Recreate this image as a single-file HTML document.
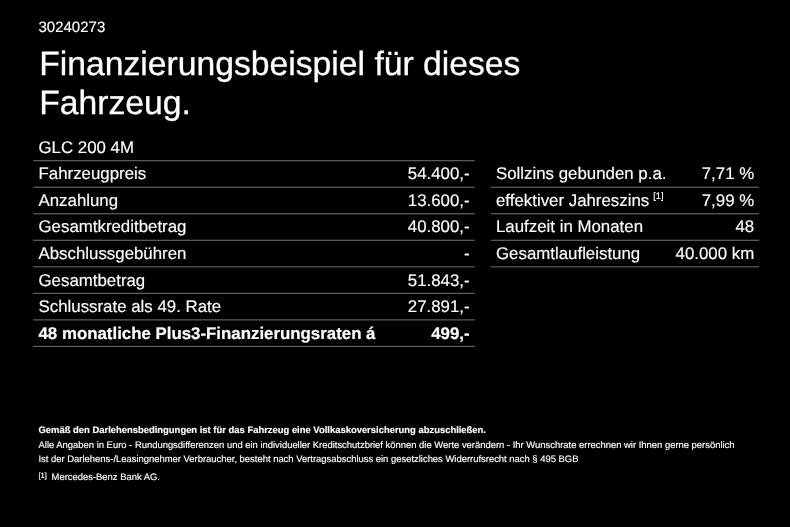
<!DOCTYPE html>
<html lang="de">
<head>
<meta charset="utf-8">
<title>Finanzierungsbeispiel</title>
<style>
html,body{margin:0;padding:0;background:#000;}
body{width:790px;height:527px;position:relative;overflow:hidden;color:#fff;font-family:"Liberation Sans",Arial,Helvetica,sans-serif;text-rendering:geometricPrecision;}
.a{position:absolute;white-space:nowrap;margin:0;font-weight:normal;-webkit-text-stroke:0.15px #fff;}
.t{font-size:16.85px;line-height:20px;}
.r{text-align:right;}
.b{font-weight:bold;-webkit-text-stroke:0.2px #fff;}
.f{-webkit-text-stroke:0.15px #fff;font-size:9.43px;line-height:12px;left:38.5px;}
svg{position:absolute;left:0;top:0;}
</style>
</head>
<body>

<svg width="790" height="527" viewBox="0 0 790 527">
<rect x="33.2" y="160.15" width="441.6" height="1.1" fill="#6a6a6a"/>
<rect x="33.2" y="186.68" width="441.6" height="1.1" fill="#6a6a6a"/>
<rect x="33.2" y="213.21" width="441.6" height="1.1" fill="#6a6a6a"/>
<rect x="33.2" y="239.74" width="441.6" height="1.1" fill="#6a6a6a"/>
<rect x="33.2" y="266.27" width="441.6" height="1.1" fill="#6a6a6a"/>
<rect x="33.2" y="292.80" width="441.6" height="1.1" fill="#6a6a6a"/>
<rect x="33.2" y="319.33" width="441.6" height="1.1" fill="#6a6a6a"/>
<rect x="33.2" y="345.86" width="441.6" height="1.1" fill="#6a6a6a"/>
<rect x="490.8" y="186.68" width="268.3" height="1.1" fill="#6a6a6a"/>
<rect x="490.8" y="213.21" width="268.3" height="1.1" fill="#6a6a6a"/>
<rect x="490.8" y="239.74" width="268.3" height="1.1" fill="#6a6a6a"/>
<rect x="490.8" y="266.27" width="268.3" height="1.1" fill="#6a6a6a"/>
</svg>
<div class="a" style="left:38.5px;top:18.60px;font-size:15.0px;line-height:18px;">30240273</div>
<h1 class="a" style="-webkit-text-stroke:0.3px #fff;left:39.2px;top:44.67px;font-size:33.7px;line-height:39.3px;height:78.6px;"><span class="a" style="-webkit-text-stroke:inherit;left:0;top:0;">Finanzierungsbeispiel für dieses</span><span class="a" style="-webkit-text-stroke:inherit;left:0;top:39.60px;">Fahrzeug.</span></h1>
<div class="a t" style="left:38.5px;top:137.66px;">GLC 200 4M</div>
<div class="a t" style="left:38.5px;top:164.00px;">Fahrzeugpreis</div>
<div class="a t r" style="right:320.4px;top:164.00px;">54.400,-</div>
<div class="a t" style="left:38.5px;top:191.00px;">Anzahlung</div>
<div class="a t r" style="right:320.4px;top:191.00px;">13.600,-</div>
<div class="a t" style="left:38.5px;top:217.00px;">Gesamtkreditbetrag</div>
<div class="a t r" style="right:320.4px;top:217.00px;">40.800,-</div>
<div class="a t" style="left:38.5px;top:244.00px;">Abschlussgebühren</div>
<div class="a t r" style="right:320.4px;top:244.00px;">-</div>
<div class="a t" style="left:38.5px;top:271.00px;">Gesamtbetrag</div>
<div class="a t r" style="right:320.4px;top:271.00px;">51.843,-</div>
<div class="a t" style="left:38.5px;top:297.00px;">Schlussrate als 49. Rate</div>
<div class="a t r" style="right:320.4px;top:297.00px;">27.891,-</div>
<div class="a t b" style="left:38.5px;top:324.00px;">48 monatliche Plus3-Finanzierungsraten á</div>
<div class="a t r b" style="right:320.4px;top:324.00px;">499,-</div>
<div class="a t" style="left:496.0px;top:164.00px;">Sollzins gebunden p.a.</div>
<div class="a t r" style="right:35.8px;top:164.00px;">7,71 %</div>
<div class="a t" style="left:496.0px;top:191.00px;">effektiver Jahreszins<span style="font-size:9.3px;position:relative;top:-7px;left:4px;">[1]</span></div>
<div class="a t r" style="right:35.8px;top:191.00px;">7,99 %</div>
<div class="a t" style="left:496.0px;top:217.00px;">Laufzeit in Monaten</div>
<div class="a t r" style="right:35.8px;top:217.00px;">48</div>
<div class="a t" style="left:496.0px;top:244.00px;">Gesamtlaufleistung</div>
<div class="a t r" style="right:35.8px;top:244.00px;">40.000 km</div>
<div class="a f b" style="top:423.93px;">Gemäß den Darlehensbedingungen ist für das Fahrzeug eine Vollkaskoversicherung abzuschließen.</div>
<div class="a f" style="top:438.63px;">Alle Angaben in Euro - Rundungsdifferenzen und ein individueller Kreditschutzbrief können die Werte verändern - Ihr Wunschrate errechnen wir Ihnen gerne persönlich</div>
<div class="a f" style="top:453.33px;">Ist der Darlehens-/Leasingnehmer Verbraucher, besteht nach Vertragsabschluss ein gesetzliches Widerrufsrecht nach § 495 BGB</div>
<div class="a f" style="top:471.33px;"><span style="font-size:7.6px;position:relative;top:-2.2px;">[1]</span><span style="margin-left:4.6px;">Mercedes-Benz Bank AG.</span></div>
</body>
</html>
